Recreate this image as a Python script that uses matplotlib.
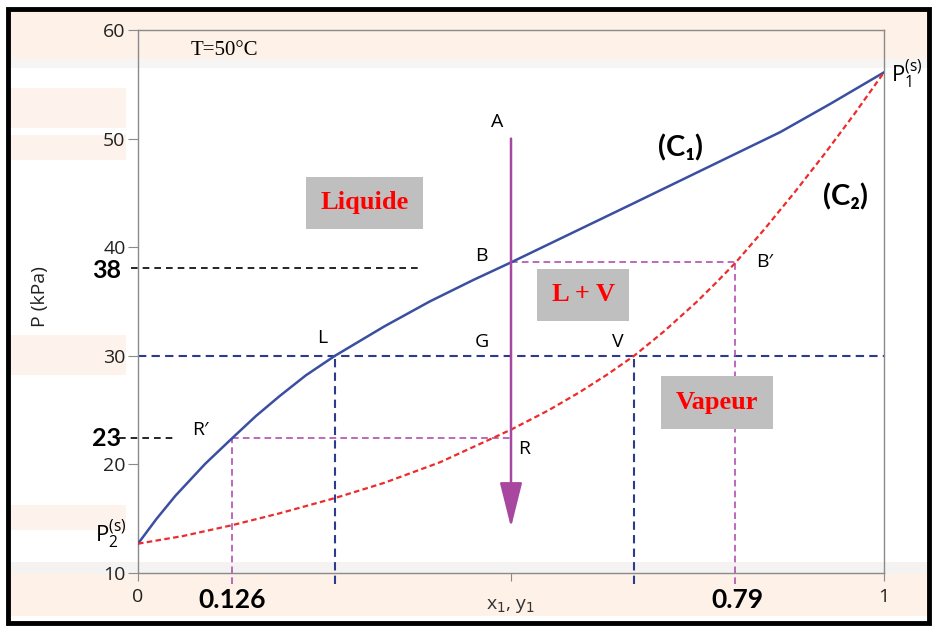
import numpy as np
import matplotlib.pyplot as plt
from matplotlib.patches import Rectangle

# courbe d'ébullition (C1) et de rosée (C2), T = 50°C
x_c1 = [0, 0.025, 0.05, 0.09, 0.126, 0.158, 0.19, 0.225, 0.264, 0.33, 0.391, 0.45, 0.5,
        0.58, 0.66, 0.771, 0.861, 0.928, 1.0]
p_c1 = [12.7, 15.0, 17.1, 20.05, 22.4, 24.45, 26.3, 28.2, 30.0, 32.7, 35.0, 37.0, 38.6,
        41.25, 43.9, 47.6, 50.6, 53.2, 56.1]
x_c2 = [0, 0.06, 0.126, 0.19, 0.264, 0.33, 0.405, 0.5, 0.55, 0.592, 0.63, 0.665,
        0.705, 0.749, 0.775, 0.8, 0.84, 0.88, 0.92, 0.96, 1.0]
p_c2 = [12.7, 13.4, 14.4, 15.5, 16.9, 18.3, 20.2, 23.2, 24.97, 26.65, 28.32, 30.0,
        32.24, 34.97, 36.74, 38.5, 41.68, 45.04, 48.56, 52.24, 56.1]

# points remarquables
x_A = 0.5
p_A, p_fin = 50.0, 14.2
p_G = 30.0
x_L, x_V = 0.264, 0.665
p_B = 38.6
x_Bp = 0.80
x_Rp = 0.126
p_R = 22.4
p_38 = 38.1
yticks = [10, 20, 30, 40, 50, 60]

BLEU = '#3b4fa0'
ROUGE = '#ee2b2b'
MARINE = '#2e3a8c'
ROSE = '#b24fb2'
VIOLET = '#a8479f'

fig = plt.figure(figsize=(9.33, 6.26), dpi=100)
fig.patch.set_facecolor('white')

# fond (capture d'écran pâle)
def fond(x0, y0, w, h, c):
    fig.add_artist(Rectangle((x0 / 933, 1 - (y0 + h) / 626), w / 933, h / 626,
                             transform=fig.transFigure, color=c, zorder=-10, lw=0))

fond(11, 10, 919, 48, '#fdf1e8')
fond(11, 58, 919, 10, '#f7f5f3')
fond(11, 574, 919, 42, '#fdf1e8')
fond(11, 562, 919, 12, '#f5f3f2')
fond(11, 88, 115, 40, '#fdf3ec')
fond(11, 135, 115, 25, '#fdf3ec')
fond(11, 335, 115, 40, '#fdf3ec')
fond(11, 505, 115, 25, '#fdf3ec')
# cadre noir
fig.add_artist(Rectangle((8 / 933, 3 / 626), 921 / 933, 614 / 626, transform=fig.transFigure,
                         fill=False, ec='black', lw=3.5, zorder=20))

ax = fig.add_axes([138 / 933, 53 / 626, 746 / 933, 543 / 626])
ax.set_facecolor('none')
ax.set_xlim(0, 1)
ax.set_ylim(10, 60)

for s in ax.spines.values():
    s.set_color('#8a8a8a')
    s.set_linewidth(1.0)

ax.set_yticks(yticks)
ax.set_yticklabels([str(v) for v in yticks], fontsize=14, family='Open Sans', color='#222222')
ax.set_xticks([0, 0.5, 1])
ax.set_xticklabels(['0', '', '1'], fontsize=14, family='Open Sans', color='#222222')
ax.tick_params(axis='y', length=7, color='#8a8a8a', pad=2)
ax.tick_params(axis='x', length=6, color='#8a8a8a', pad=5)
ax.text(0.5, -0.06, 'x$_1$, y$_1$', transform=ax.transAxes, ha='center', va='center',
        fontsize=14, family='Open Sans', color='#333333')
ax.text(-0.131, 0.51, 'P (kPa)', transform=ax.transAxes, rotation=90, ha='center', va='center',
        fontsize=14, family='Open Sans', color='#222222')

# lignes de construction
ax.plot([0, 1], [p_G, p_G], color=MARINE, lw=1.5, ls=(0, (4, 2.5)), zorder=2)
ax.plot([x_L, x_L], [9, p_G], color=MARINE, lw=1.5, ls=(0, (4, 2.5)), zorder=2, clip_on=False)
ax.plot([x_V, x_V], [9, p_G], color=MARINE, lw=1.5, ls=(0, (4, 2.5)), zorder=2, clip_on=False)
ax.plot([x_A, x_Bp], [p_B, p_B], color=ROSE, lw=1.2, ls=(0, (4, 2.5)), zorder=2)
ax.plot([x_Bp, x_Bp], [9, p_B], color=ROSE, lw=1.2, ls=(0, (4, 2.5)), zorder=2, clip_on=False)
ax.plot([x_Rp, x_A], [p_R, p_R], color=ROSE, lw=1.2, ls=(0, (4, 2.5)), zorder=2)
ax.plot([x_Rp, x_Rp], [9, p_R], color=ROSE, lw=1.2, ls=(0, (4, 2.5)), zorder=2, clip_on=False)
ax.plot([-0.01, 0.38], [p_38, p_38], color='black', lw=1.2, ls=(0, (4, 3)), clip_on=False)
ax.plot([-0.025, 0.05], [p_R, p_R], color='black', lw=1.2, ls=(0, (4, 3)), clip_on=False)

# courbes
ax.plot(x_c1, p_c1, color=BLEU, lw=1.8, zorder=3, solid_joinstyle='round')
ax.plot(x_c2, p_c2, color=ROUGE, lw=1.6, ls=(0, (2.5, 1.5)), zorder=3)

# flèche de compression isotherme
ax.annotate('', xy=(x_A, p_fin), xytext=(x_A, p_A),
            arrowprops=dict(arrowstyle='-|>,head_length=1.4,head_width=0.35', color=VIOLET,
                            lw=1.8, mutation_scale=20, shrinkA=0, shrinkB=0), zorder=4)

# étiquettes
lab = dict(fontsize=14, family='Open Sans', color='black', ha='center', va='center')
ax.text(0.481, 51.5, 'A', **lab)
ax.text(0.46, 39.2, 'B', **lab)
ax.text(0.461, 31.3, 'G', **lab)
ax.text(0.247, 31.6, 'L', **lab)
ax.text(0.643, 31.3, 'V', **lab)
ax.text(0.083, 23.2, 'R\u2032', **lab)
ax.text(0.517, 21.4, 'R', **lab)
ax.text(0.84, 38.6, 'B\u2032', **lab)
ax.text(1.01, 56.0, '$\\mathregular{P_1^{(s)}}$', fontsize=16, family='Open Sans', ha='left', va='center', clip_on=False)
ax.text(-0.036, 13.6, '$\\mathregular{P_2^{(s)}}$', fontsize=16, family='Open Sans', ha='center', va='center', clip_on=False)
ax.text(0.07, 58.1, 'T=50°C', fontsize=15, family='Liberation Serif', ha='left', va='center')
ax.text(0.727, 49.1, '(C\u2081)', fontsize=21, family='Lato', weight='bold', ha='center', va='center')
ax.text(0.948, 44.6, '(C\u2082)', fontsize=21, family='Lato', weight='bold', ha='center', va='center')

boite = dict(boxstyle='square,pad=0.55', fc='#bfbfbf', ec='none')
zone = dict(fontsize=19, family='Liberation Serif', weight='bold', color='#ff0000',
            ha='center', va='center', bbox=boite)
ax.text(0.304, 44.1, 'Liquide', **zone)
ax.text(0.597, 35.6, 'L + V', **zone)
ax.text(0.776, 25.7, 'Vapeur', **zone)

gras = dict(fontsize=18, family='Lato', weight='bold', color='black', ha='center', va='center')
ax.text(-0.042, p_38 - 0.2, '38', clip_on=False, **gras)
ax.text(-0.042, p_R, '23', clip_on=False, **gras)
gras['fontsize'] = 19
ax.text(x_Rp, -0.05, '0.126', transform=ax.get_xaxis_transform(), **gras)
ax.text(0.804, -0.05, '0.79', transform=ax.get_xaxis_transform(), **gras)

fig.savefig('out.png', dpi=100)
